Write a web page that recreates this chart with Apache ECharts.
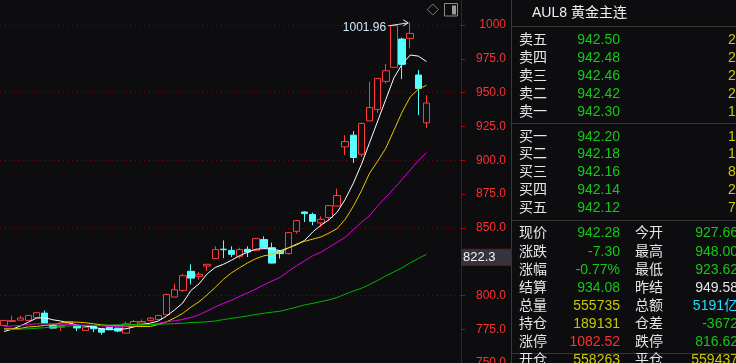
<!DOCTYPE html>
<html><head><meta charset="utf-8">
<script src="https://cdn.jsdelivr.net/npm/echarts@6/dist/echarts.min.js"></script>
<style>html,body{margin:0;padding:0;background:#0d0d10;}#c{width:736px;height:363px;}</style>
</head><body><div id="c"></div>
<script>
// ---------- data ----------
const categories = ['1','2','3','4','5','6','7','8','9','10','11','12','13','14','15','16','17','18','19','20',
'21','22','23','24','25','26','27','28','29','30','31','32','33','34','35','36','37','38','39','40',
'41','42','43','44','45','46','47','48','49','50','51','52','53','54','55','56','57'];
// [open, close, low, high]
const candles = [
[777.8,781.5,777.5,781.8],[780.8,781.3,780.6,785.0],[781.7,783.3,781.5,785.0],[781.5,785.2,781.3,785.5],
[783.5,787.2,783.3,787.5],[786.9,779.5,779.3,788.9],[777.8,775.8,775.6,778.3],[776.5,777.8,773.6,778.0],
[778.7,780.7,778.5,781.0],[777.4,775.9,773.6,777.6],[774.1,776.5,773.9,776.8],[777.3,775.3,772.8,777.5],
[775.3,772.8,770.9,775.6],[776.5,774.6,774.3,776.8],[775.8,773.6,772.8,776.0],[772.1,779.0,771.9,780.7],
[778.5,780.7,778.3,782.0],[779.5,780.7,779.3,782.2],[781.5,783.2,781.3,784.0],[782.2,785.2,782.0,785.5],
[785.7,800.7,785.5,801.2],[798.8,804.2,798.6,808.6],[803.7,814.6,802.5,816.0],[817.8,812.8,808.1,823.0],
[814.1,815.6,811.6,817.3],[821.7,823.0,818.0,823.3],[827.2,833.9,827.0,836.3],[834.2,833.8,827.6,840.7],
[833.3,830.4,828.4,836.3],[828.9,833.9,827.2,835.3],[834.1,832.1,828.4,836.3],[833.3,842.0,833.1,842.3],
[841.3,835.3,835.1,843.7],[835.3,823.9,823.7,839.0],[832.8,830.9,827.2,833.0],[830.9,846.4,830.3,846.7],
[847.4,855.3,845.7,855.6],[861.7,860.5,854.3,862.3],[859.8,854.8,851.9,861.2],[853.6,856.3,850.6,858.5],
[857.6,866.4,855.6,866.7],[866.1,873.9,865.9,879.0],[909.9,913.8,903.7,918.5],[918.5,902.0,898.0,921.5],
[904.4,927.2,902.5,927.9],[929.1,939.0,928.9,958.0],[937.6,960.5,935.0,960.8],[958.3,966.2,956.8,971.1],
[968.7,999.5,968.5,999.8],[989.6,970.9,960.0,990.6],[990.1,993.8,982.7,1001.96],[963.0,953.1,933.3,966.7],
[927.66,942.28,923.62,948.0]
];
const ma5 = [773.3,775.0,777.4,780.2,783.2,783.5,782.0,781.0,779.6,778.1,777.3,776.5,775.3,774.8,774.8,775.3,776.7,778.5,779.5,781.1,
784.7,789.3,794.4,803.6,808.5,815.9,820.7,823.0,826.0,829.4,831.9,834.2,834.6,834.4,833.0,835.2,837.4,840.7,846.9,851.9,
855.9,861.5,871.1,883.0,897.0,913.0,929.0,945.0,961.0,971.0,977.8,977.0,973.0];
const ma10 = [775.3,775.3,775.6,776.7,777.0,777.8,778.3,779.6,780.2,780.2,779.8,779.0,778.3,777.6,777.6,777.3,777.0,777.0,777.0,778.5,
780.4,783.3,786.7,791.3,795.3,800.4,805.9,811.9,816.7,820.5,824.1,827.2,829.3,830.4,831.9,835.0,838.0,840.0,841.6,843.2,
846.1,849.4,856.3,865.9,877.4,890.4,899.3,908.9,922.2,935.6,946.7,952.6,955.4];
const ma20 = [777.0,777.4,777.8,778.5,779.0,779.0,779.0,778.7,778.5,778.1,777.9,777.8,777.4,777.0,777.0,777.3,777.6,777.8,778.5,779.4,
780.4,781.3,782.2,783.7,785.6,788.5,791.5,794.1,796.4,799.3,801.9,804.8,807.8,810.7,813.3,817.8,821.9,825.6,829.3,831.9,
835.6,839.3,843.0,848.5,854.1,858.9,866.3,872.6,879.0,885.8,892.8,899.8,905.6];
const ma60 = [774.8,774.8,775.0,775.3,775.7,776.1,776.7,777.0,777.4,777.6,777.8,777.8,778.0,778.1,778.3,778.4,778.5,778.5,778.5,778.7,
778.9,779.1,779.4,779.9,780.1,780.5,781.1,782.1,783.0,783.9,784.8,785.9,786.8,787.6,788.3,789.8,791.3,793.0,794.1,795.4,
796.7,798.5,800.9,803.2,805.2,808.1,811.1,814.4,817.4,820.4,824.1,827.3,830.4];
const highIndex = 50, highValue = 1001.96, highLabel = '1001.96';
const cursorValue = 822.3, cursorLabel = '822.3';
const yMin = 750, yMax = 1018.5, yInterval = 25, gridInterval = 50;

const title = 'AUL8 黄金主连';
const askLabels = ['卖五','卖四','卖三','卖二','卖一'];
const askPrices = ['942.50','942.48','942.46','942.42','942.30'];
const askVols = ['2','2','2','2','1'];
const bidLabels = ['买一','买二','买三','买四','买五'];
const bidPrices = ['942.20','942.18','942.16','942.14','942.12'];
const bidVols = ['1','1','8','2','7'];
const statL1 = ['现价','涨跌','涨幅','结算','总量','持仓','涨停','开仓'];
const statV1 = ['942.28','-7.30','-0.77%','934.08','555735','189131','1082.52','558263'];
const statL2 = ['今开','最高','最低','昨结','总额','仓差','跌停','平仓'];
const statV2 = ['927.66','948.00','923.62','949.58','5191亿','-3672','816.62','559437'];

// ---------- style ----------
const BG = '#0d0d10', RED = '#ff3c3c', CYAN = '#54ffff';
const GREEN_T = '#14c814', YEL_T = '#c8c800', WHITE_T = '#e6e6e6', CYAN_T = '#1ee0ff', RED_T = '#ff3030';
const FONT = '"Liberation Sans", "Noto Sans CJK SC", sans-serif';
const statC1 = [GREEN_T,GREEN_T,GREEN_T,GREEN_T,YEL_T,YEL_T,RED_T,YEL_T];
const statC2 = [GREEN_T,GREEN_T,GREEN_T,WHITE_T,CYAN_T,GREEN_T,GREEN_T,YEL_T];

const chart = echarts.init(document.getElementById('c'), null, {renderer:'canvas'});
const lineSeries = (name, data, color) => ({
  name, type:'line', data, symbol:'none', showSymbol:false, silent:true,
  lineStyle:{color, width:1}, z:5
});
chart.setOption({
  backgroundColor: BG,
  animation: false,
  grid: {left:0, top:0, bottom:0, width:463, containLabel:false, outerBoundsMode:'none'},
  xAxis: {type:'category', data:categories, show:false, boundaryGap:true},
  yAxis: [
    {type:'value', position:'right', offset:-2, min:yMin, max:yMax, interval:yInterval, scale:true,
     axisLine:{show:true, lineStyle:{color:'#8c0000', width:1}},
     axisTick:{show:true, length:4, lineStyle:{color:'#c00000'}},
     axisLabel:{show:true, color:RED_T, fontSize:12, fontFamily:FONT, align:'right', margin:45,
       showMaxLabel:false, hideOverlap:false,
       formatter: v => v >= 1000 ? String(Math.round(v)) : v.toFixed(1)},
     splitLine:{show:false}},
    {type:'value', position:'right', min:yMin, max:yMax, interval:gridInterval, scale:true,
     axisLine:{show:false}, axisTick:{show:false}, axisLabel:{show:false},
     splitLine:{show:true, showMaxLine:false, lineStyle:{color:'#7a0a0a', type:[1,3.5], width:1}}}
  ],
  series: [
    {type:'candlestick', data:candles, barWidth:7, z:3,
     itemStyle:{color:BG, color0:CYAN, borderColor:RED, borderColor0:CYAN, borderWidth:1}},
    lineSeries('MA5', ma5, '#ffffff'),
    lineSeries('MA10', ma10, '#e6c800'),
    lineSeries('MA20', ma20, '#e000e0'),
    lineSeries('MA60', ma60, '#00b400')
  ]
});

// ---------- overlays ----------
function txt(x, y, s, color, align, size) {
  return {type:'text', x, y, silent:true, z:100,
    style:{text:s, fill:color, font:(size||14)+'px '+FONT,
      align:align||'left', textAlign:align||'left', verticalAlign:'middle', textVerticalAlign:'middle'}};
}
function hline(x1, x2, y, color) {
  return {type:'line', silent:true, z:100, shape:{x1, y1:y, x2, y2:y}, style:{stroke:color, lineWidth:1}};
}
const g = [];
// panel frame
g.push({type:'line', silent:true, z:100, shape:{x1:511.5, y1:0, x2:511.5, y2:363}, style:{stroke:'#3a3a3a', lineWidth:1}});
[26.5, 123.5, 220.5, 353.5].forEach(y => g.push(hline(512, 736, y, '#363636')));
g.push(txt(532, 13, title, '#f0f0f0', 'left', 14));
const askY = [40, 58, 76, 94, 111.7], bidY = [137, 154.5, 172.3, 190, 208];
askLabels.forEach((l,i) => {
  g.push(txt(519, askY[i], l, WHITE_T));
  g.push(txt(620, askY[i], askPrices[i], GREEN_T, 'right'));
  g.push(txt(728, askY[i], askVols[i], YEL_T));
});
bidLabels.forEach((l,i) => {
  g.push(txt(519, bidY[i], l, WHITE_T));
  g.push(txt(620, bidY[i], bidPrices[i], GREEN_T, 'right'));
  g.push(txt(728, bidY[i], bidVols[i], YEL_T));
});
const statY = [233.5, 251.7, 270, 287.7, 305.7, 324, 341.8, 360.5];
statL1.forEach((l,i) => {
  g.push(txt(519, statY[i], l, WHITE_T));
  g.push(txt(620, statY[i], statV1[i], statC1[i], 'right'));
  g.push(txt(635, statY[i], statL2[i], WHITE_T));
  g.push(txt(738, statY[i], statV2[i], statC2[i], 'right'));
});
// top icons
g.push({type:'polygon', silent:true, z:100, shape:{points:[[432.8,4],[438.3,9.5],[432.8,15],[427.3,9.5]]},
  style:{fill:'none', stroke:'#7a7a7a', lineWidth:1}});
g.push({type:'rect', silent:true, z:100, shape:{x:444.5, y:3.5, width:13, height:12.5},
  style:{fill:'none', stroke:'#8a8a8a', lineWidth:1}});
g.push({type:'rect', silent:true, z:100, shape:{x:452, y:5.5, width:4, height:9}, style:{fill:'#9a9a9a'}});
// high annotation
const hp = chart.convertToPixel({seriesIndex:0}, [highIndex, highValue]);
const hx = hp[0], hy = hp[1];
g.push(txt(hx-24, hy+5.8, highLabel, '#d4e6f6', 'right', 12));
g.push({type:'polyline', silent:true, z:100, shape:{points:[[hx-22,hy+3.5],[hx-12,hy+2],[hx-2,hy+0.5]]},
  style:{fill:'none', stroke:'#e8e8e8', lineWidth:1}});
g.push({type:'polyline', silent:true, z:100, shape:{points:[[hx-7,hy-2.5],[hx-2,hy+0.5],[hx-7,hy+3.5]]},
  style:{fill:'none', stroke:'#e8e8e8', lineWidth:1}});
// cursor price label
const cy = chart.convertToPixel({yAxisIndex:0}, cursorValue);
g.push({type:'rect', silent:true, z:101, shape:{x:461.5, y:cy-16, width:50, height:16},
  style:{fill:'#34343e', stroke:'#7a1414', lineWidth:1}});
g.push(Object.assign(txt(463, cy-7.5, cursorLabel, '#f4f4f4', 'left', 13), {z:102}));
chart.setOption({graphic:{elements:g}});
</script></body></html>
